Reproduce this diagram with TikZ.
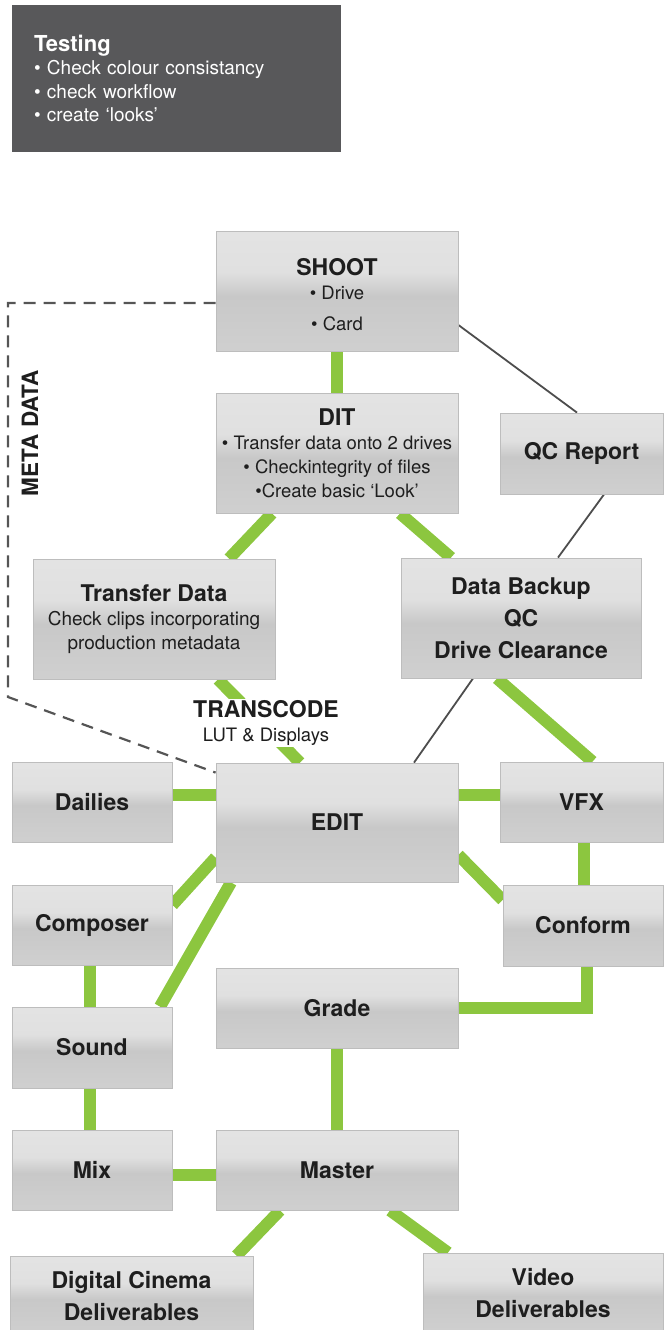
\documentclass[tikz,border=0pt]{standalone}
\usepackage{fontspec}
\setmainfont{TeX Gyre Heros}
\usetikzlibrary{backgrounds}
\definecolor{grn}{HTML}{8CC63F}
\definecolor{darkln}{HTML}{4D4D4D}
\definecolor{dashln}{HTML}{555555}
\definecolor{testbg}{HTML}{58585A}
\definecolor{boxborder}{HTML}{BDBDBD}
\definecolor{txt}{HTML}{1E1E1E}
\definecolor{shB}{HTML}{D8D8D8}
\definecolor{shD}{HTML}{C8C8C8}
\definecolor{shL}{HTML}{E0E0E0}
\definecolor{shT}{HTML}{E8E8E8}
\pgfdeclareverticalshading{boxshade}{100bp}{color(0bp)=(shB); color(48bp)=(shD); color(58bp)=(shL); color(100bp)=(shT)}
\newcommand\ttl{\fontsize{23}{26}\selectfont\bfseries}
\begin{document}
\begin{tikzpicture}[x=1pt,y=-1pt,
  box/.style={draw=boxborder, line width=0.8pt, shading=boxshade, inner sep=0pt,
    align=center, text=txt, font=\ttl},
  wide/.style={box, minimum width=242pt},
  narrow/.style={box, minimum width=160pt, minimum height=80pt},
  sub/.style={font=\fontsize{18.5}{24}\selectfont},
  gline/.style={draw=grn, line width=12pt},
  dline/.style={draw=darkln, line width=1.8pt},
  mline/.style={draw=dashln, line width=2.2pt, dash pattern=on 12pt off 8pt}]
\useasboundingbox (0,0) rectangle (667,1330);

% Testing box
\node[fill=testbg, minimum width=329pt, minimum height=147pt, text width=285pt,
  inner xsep=0pt, align=left, text=white, font=\fontsize{19}{23.5}\selectfont]
  (testing) at (176.5,78.5)
  {{\fontsize{22}{25}\selectfont\bfseries Testing}\\ • Check colour consistancy\\ • check workflow\\ • create ‘looks’};

% boxes
\node[wide, minimum height=120pt, sub] (shoot) at (337,291)
  {{\ttl\rule{0pt}{25pt}SHOOT}\\ • Drive\\[7pt] • Card};
\node[wide, minimum height=120pt, sub] (dit) at (337,453)
  {{\ttl DIT}\\ • Transfer data onto 2 drives\\ • Checkintegrity of files\\ •Create basic ‘Look’};
\node[box, minimum width=163pt, minimum height=81pt] (qc) at (581.5,453.5) {QC Report};
\node[wide, minimum height=120pt, font=\fontsize{19}{24}\selectfont] (transfer) at (154,619)
  {{\ttl Transfer Data}\\ Check clips incorporating\\ production metadata};
\node[box, minimum width=240pt, minimum height=120pt, font=\fontsize{23}{32}\selectfont\bfseries] (backup) at (521,618)
  {Data Backup\\ QC\\ Drive Clearance};
\node[narrow] (dailies) at (92,802) {Dailies};
\node[wide, minimum height=119pt] (edit) at (337,822.5) {EDIT};
\node[box, minimum width=163pt, minimum height=80pt] (vfx) at (581.5,802) {VFX};
\node[narrow] (composer) at (92,925) {Composer};
\node[narrow, minimum height=81pt] (conform) at (583,925.5) {Conform};
\node[wide, minimum height=80pt] (grade) at (337,1008) {Grade};
\node[narrow, minimum height=81pt] (sound) at (92,1047.5) {Sound};
\node[narrow] (mix) at (92,1170) {Mix};
\node[wide, minimum height=80pt] (master) at (337,1170) {Master};
\node[box, minimum width=243pt, minimum height=80pt, font=\fontsize{23}{32}\selectfont\bfseries] (dcinema) at (131.5,1296)
  {Digital Cinema\\ Deliverables};
\node[box, minimum width=240pt, minimum height=80pt, font=\fontsize{23}{32}\selectfont\bfseries] (video) at (543,1293)
  {Video\\ Deliverables};

% labels
\node[fill=white, inner sep=1pt, align=center, text=txt, font=\fontsize{18.5}{24}\selectfont] (transcode) at (266,723)
  {{\fontsize{23}{26}\selectfont\bfseries TRANSCODE}\\ LUT \& Displays};
\node[rotate=90, text=txt, font=\fontsize{22.5}{26}\selectfont\bfseries] (meta) at (30,433) {META DATA};

\coordinate (m2) at (8,697);

\begin{scope}[on background layer]
  % green connectors
  \draw[gline] (shoot.south) -- (dit.north);
  \draw[gline] ([xshift=-65pt]dit.south) -- ([xshift=75pt]transfer.north);
  \draw[gline] ([xshift=63pt]dit.south) -- ([xshift=-70pt]backup.north);
  \draw[gline] ([xshift=64pt]transfer.south) -- ([xshift=-37pt]edit.north);
  \draw[gline] ([xshift=-24pt]backup.south) -- ([xshift=11pt]vfx.north);
  \draw[gline] ([yshift=7pt]dailies.east) -- ([yshift=27.5pt]edit.west);
  \draw[gline] ([yshift=27.5pt]edit.east) -- ([yshift=7pt]vfx.west);
  \draw[gline] ([yshift=-35pt]edit.west) -- ([yshift=20pt]composer.east);
  \draw[gline] ([xshift=-106pt]edit.south) -- ([xshift=68pt]sound.north);
  \draw[gline] ([yshift=-32.5pt]edit.east) -- ([yshift=25.5pt]conform.west);
  \draw[gline] ([xshift=2.5pt]vfx.south) -- ([xshift=1pt]conform.north);
  \draw[gline] ([xshift=4pt]conform.south) |- (grade.east);
  \draw[gline] ([xshift=-2pt]composer.south) -- ([xshift=-2pt]sound.north);
  \draw[gline] ([xshift=-2pt]sound.south) -- ([xshift=-2pt]mix.north);
  \draw[gline] (grade.south) -- (master.north);
  \draw[gline] ([yshift=-5pt]mix.east) -- ([yshift=-5pt]master.west);
  \draw[gline] ([xshift=-57pt]master.south) -- ([xshift=105pt]dcinema.north);
  \draw[gline] ([xshift=53pt]master.south) -- ([xshift=-95pt]video.north);
  % dark connectors
  \draw[dline] ([yshift=-34pt]shoot.east) -- ([xshift=-4.5pt]qc.north);
  \draw[dline] ([xshift=22.5pt]qc.south) -- ([xshift=37pt]backup.north);
  \draw[dline] ([xshift=-48pt]backup.south) -- ([xshift=77pt]edit.north);
  % metadata dashed
  \draw[mline] ([yshift=-12pt]shoot.west) -| (m2) -- ([yshift=-10pt]edit.north west);
\end{scope}
\end{tikzpicture}
\end{document}
